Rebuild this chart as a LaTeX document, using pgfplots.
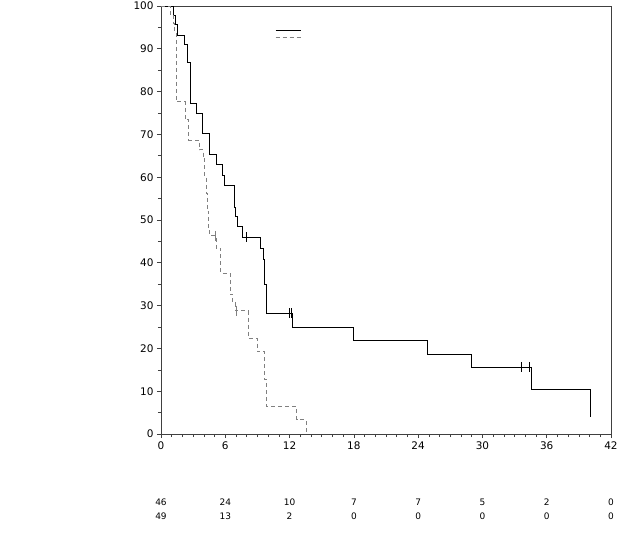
\documentclass[border=0pt]{standalone}
\usepackage{fontspec}
\setmainfont{DejaVu Sans}
\usepackage{pgfplots}
\pgfplotsset{compat=1.18}
\tikzset{risk/.style={font=\fontsize{9}{10}\selectfont, inner sep=0pt}}
\begin{document}
\begin{tikzpicture}
\begin{axis}[
  at={(0,0)}, anchor=south west,
  scale only axis, width=450bp, height=428bp,
  xmin=0, xmax=42, ymin=0, ymax=100,
  xtick={0,6,...,42}, ytick={0,10,...,100},
  minor x tick num=5, minor y tick num=1,
  xtick pos=bottom, ytick pos=left,
  tick align=outside,
  major tick length=4bp, minor tick length=3bp,
  axis line style={black!75, line width=0.8bp},
  every tick/.style={black!75, line width=0.6bp},
  /pgf/number format/assume math mode=true,
  tick label style={font=\fontsize{10.5}{12}\selectfont},
  clip=false,
  legend style={draw=none, fill=none, at={(114/450,0.951)}, anchor=north west,
    inner sep=0pt, row sep=0pt, nodes={inner sep=0pt, text height=5bp, text depth=2bp}},
  legend image code/.code={\draw[#1] (0bp,0bp) -- (25bp,0bp);},
]
\addplot[const plot, black, line width=0.9bp] coordinates {
 (0,100) (1.2,97.8) (1.35,95.7) (1.55,93.2) (2.15,90.9) (2.45,86.9) (2.75,77.3)
 (3.33,74.9) (3.89,70.3) (4.48,65.4) (5.13,63.0) (5.7,60.5) (5.9,58.0)
 (6.84,53.0) (6.95,50.8) (7.12,48.4) (7.59,46.0) (9.24,43.4) (9.55,40.7)
 (9.7,35.0) (9.85,28.2) (12.29,24.9) (17.95,21.8) (24.9,18.7) (29.0,15.6)
 (34.53,10.4) (40.04,5.2)
};
\addlegendentry{}
\addplot[const plot, black!50, line width=0.9bp, dash pattern=on 4bp off 3bp] coordinates {
 (0,100) (0.85,97.9) (1.15,95.9) (1.3,93.9) (1.4,77.6) (2.25,73.4) (2.6,68.7)
 (3.58,66.4) (3.95,64.3) (4.1,60.2) (4.2,56.1) (4.3,52.0) (4.45,48.0) (4.55,46.3)
 (5.15,43.4) (5.57,37.6) (6.44,32.6) (6.7,30.7) (6.95,28.8) (8.15,22.4)
 (8.99,19.2) (9.7,12.8) (9.85,6.4) (12.66,3.3) (13.53,0)
};
\addlegendentry{}
\addplot[only marks, mark=|, mark size=5bp, black, mark options={line width=0.7bp}, forget plot] coordinates {
 (7.93,46.0) (11.98,28.2) (12.2,28.2) (33.67,15.6) (34.4,15.6) (40.05,5.2)
};
\addplot[only marks, mark=|, mark size=5bp, black!50, mark options={line width=0.7bp}, forget plot] coordinates {
 (5.04,46.3) (7.05,28.8)
};
\node[risk] at (axis cs:0,-15.9) {46};
\node[risk] at (axis cs:6,-15.9) {24};
\node[risk] at (axis cs:12,-15.9) {10};
\node[risk] at (axis cs:18,-15.9) {7};
\node[risk] at (axis cs:24,-15.9) {7};
\node[risk] at (axis cs:30,-15.9) {5};
\node[risk] at (axis cs:36,-15.9) {2};
\node[risk] at (axis cs:42,-15.9) {0};
\node[risk] at (axis cs:0,-19.2) {49};
\node[risk] at (axis cs:6,-19.2) {13};
\node[risk] at (axis cs:12,-19.2) {2};
\node[risk] at (axis cs:18,-19.2) {0};
\node[risk] at (axis cs:24,-19.2) {0};
\node[risk] at (axis cs:30,-19.2) {0};
\node[risk] at (axis cs:36,-19.2) {0};
\node[risk] at (axis cs:42,-19.2) {0};
\end{axis}
\pgfresetboundingbox
\path (-161bp,-104bp) rectangle (459bp,434bp);
\end{tikzpicture}
\end{document}
